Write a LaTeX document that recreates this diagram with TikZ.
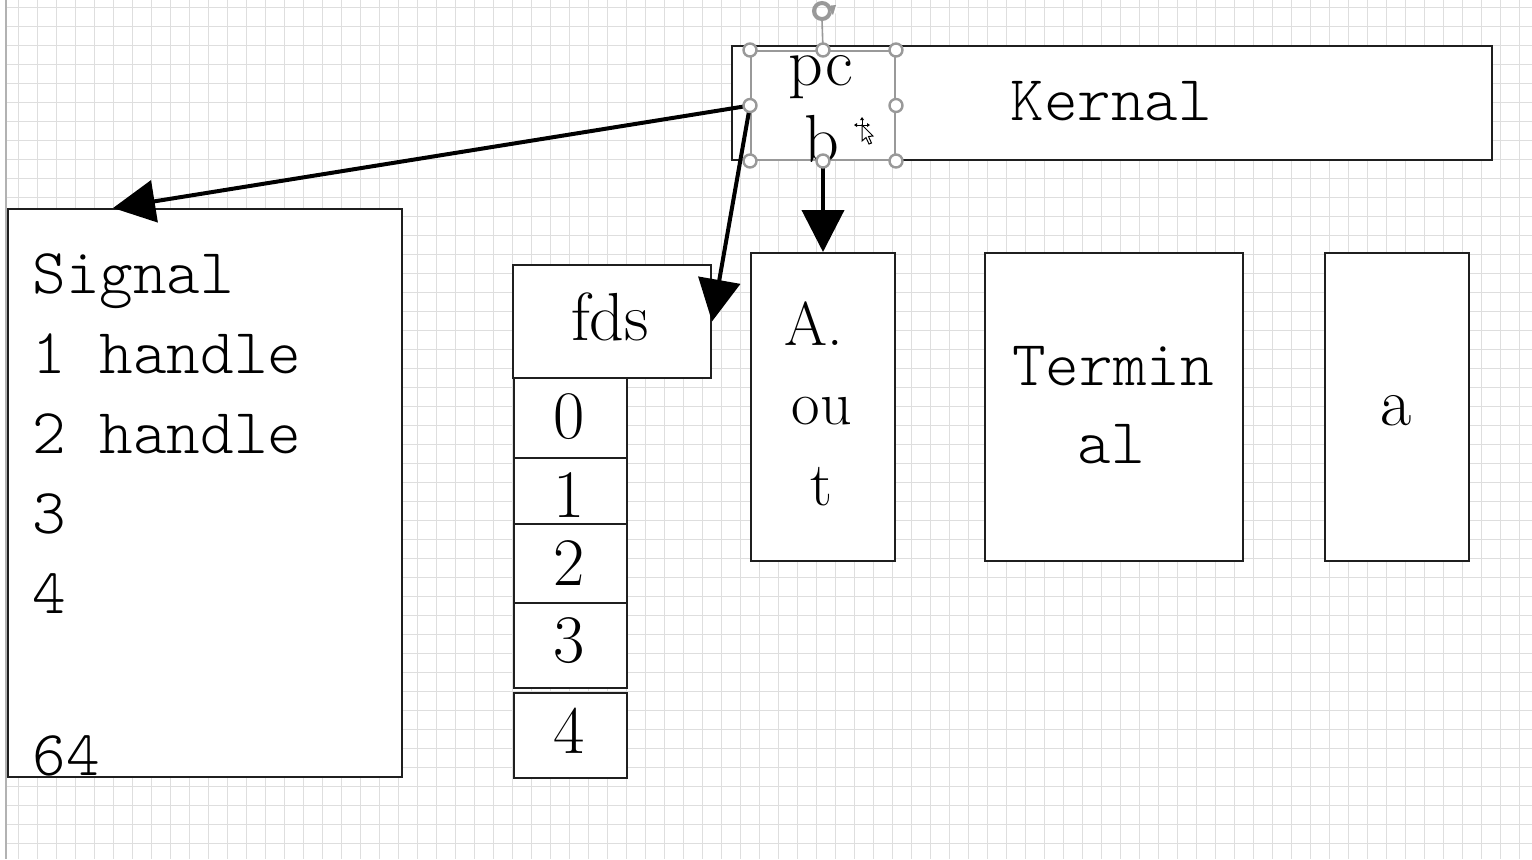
\documentclass[tikz,border=0pt]{standalone}
\usepackage{fontspec}
\usetikzlibrary{arrows.meta}
\newfontfamily\lmmlight{Latin Modern Mono Light}
\newcommand\monotxt{\lmmlight\fontsize{32pt}{40pt}\selectfont}
\newcommand\romtxt{\rmfamily\fontsize{34pt}{40pt}\selectfont}
\newcommand\romsmall{\rmfamily\fontsize{31pt}{40pt}\selectfont}
\begin{document}
\begin{tikzpicture}[x=0.5pt,y=-0.5pt,
  gridline/.style={draw=black!13, line width=0.55pt},
  box/.style={draw=black!88, line width=1pt, fill=white, inner sep=0pt, anchor=north west},
  selbox/.style={draw=black!40, line width=1pt, fill=white, inner sep=0pt, anchor=north west},
  txt/.style={inner sep=0pt, anchor=base},
  txtl/.style={inner sep=0pt, anchor=base west},
  arr/.style={draw=black, line width=2pt, -{Triangle[length=21pt,width=21pt]}},
  handle/.style={draw=black!40, fill=white, line width=1.2pt}]
\useasboundingbox (0,0) rectangle (1532,859);
\fill[white] (0,0) rectangle (1532,859);
% grid
\begin{scope}
\clip (6,0) rectangle (1532,859);
\foreach \i in {0,...,80} \draw[gridline] ({18.3+19*\i},0) -- ({18.3+19*\i},859);
\foreach \j in {0,...,45} \draw[gridline] (0,{7.3+19*\j}) -- (1532,{7.3+19*\j});
\end{scope}
\draw[black!30, line width=0.7pt] (6,0) -- (6,859);

% boxes
\node[box, minimum width=380pt, minimum height=57pt] (kern) at (731,45) {};
\node[box, minimum width=197pt, minimum height=284pt] (sig) at (7,208) {};
\node[box, minimum width=99pt, minimum height=56.5pt] (fds) at (512,264) {};
\node[box, minimum width=56.5pt, minimum height=40pt] (c0) at (513,377) {};
\node[box, minimum width=56.5pt, minimum height=41.5pt] (c1) at (513,457) {};
\node[box, minimum width=56.5pt, minimum height=40pt] (c2) at (513,523) {};
\node[box, minimum width=56.5pt, minimum height=42.5pt] (c3) at (513,602) {};
\node[box, minimum width=56.5pt, minimum height=42.5pt] (c4) at (513,692) {};
\node[box, minimum width=72pt, minimum height=154pt] (aout) at (750,252) {};
\node[box, minimum width=129pt, minimum height=154pt] (term) at (984,252) {};
\node[box, minimum width=72pt, minimum height=154pt] (abox) at (1324,252) {};
\node[selbox, minimum width=72pt, minimum height=54.5pt] (pcb) at (750,50) {};

% texts
\node[txtl, font=\monotxt] (kt) at (1010,120) {Kernal};
\node[txtl, font=\monotxt] (s0) at (32,293) {Signal};
\node[txtl, font=\monotxt] (s1) at (32,373) {1 handle};
\node[txtl, font=\monotxt] (s2) at (32,453) {2 handle};
\node[txtl, font=\monotxt] (s3) at (32,533) {3};
\node[txtl, font=\monotxt] (s4) at (32,613) {4};
\node[txtl, font=\monotxt] (s64) at (32,775) {64};
\node[txt, font=\romtxt] (ft) at (610,340) {fds};
\node[txt, font=\romtxt] (t0) at (569.5,438) {0};
\node[txt, font=\romtxt] (t1) at (569.5,517) {1};
\node[txt, font=\romtxt] (t2) at (569.5,585) {2};
\node[txt, font=\romtxt] (t3) at (569.5,662) {3};
\node[txt, font=\romtxt] (t4) at (569.5,753) {4};
\node[txt, font=\romsmall] (a1) at (814,345) {A.};
\node[txt, font=\romsmall] (a2) at (822,424) {ou};
\node[txt, font=\romsmall] (a3) at (821,505) {t};
\node[txt, font=\monotxt] (tm1) at (1113,385) {Termin};
\node[txt, font=\monotxt] (tm2) at (1111,463) {al};
\node[txt, font=\romtxt] (at) at (1396,425) {a};
\node[txt, font=\romtxt] (p1) at (821,85) {pc};
\node[txt, font=\romtxt] (p2) at (822,162) {b};

% connectors
\coordinate (sigtip) at (113,208);
\draw[arr] (pcb.west) -- (sigtip);
\draw[arr] (pcb.west) -- (fds.east);
\draw[arr] (pcb.south) -- (aout.north);

% selection handles
\coordinate (rot) at (822,11);
\draw[black!40, line width=0.8pt] (pcb.north) -- (822,20);
\draw[black!40, line width=2pt] (rot) circle (8);
\fill[white] (830,4) -- (838,8) -- (838,14) -- (830,12) -- cycle;
\fill[black!40] (826,6) -- (836,5) -- (833,15) -- cycle;
\foreach \p in {north west, north, north east, west, east, south west, south, south east}
  \draw[handle] (pcb.\p) circle (6.5);

% cursor
\begin{scope}[line width=0.5pt]
\draw (856,125) -- (868,125);
\draw (862,119) -- (862,131);
\fill (854,125) -- (857,123) -- (857,127) -- cycle;
\fill (870,125) -- (867,123) -- (867,127) -- cycle;
\fill (862,117) -- (860,120) -- (864,120) -- cycle;
\draw[fill=white] (862,125) -- (862,141) -- (866,137.5) -- (869,144) -- (871.5,143) -- (868.5,136.5) -- (873,136) -- cycle;
\end{scope}
\end{tikzpicture}
\end{document}
